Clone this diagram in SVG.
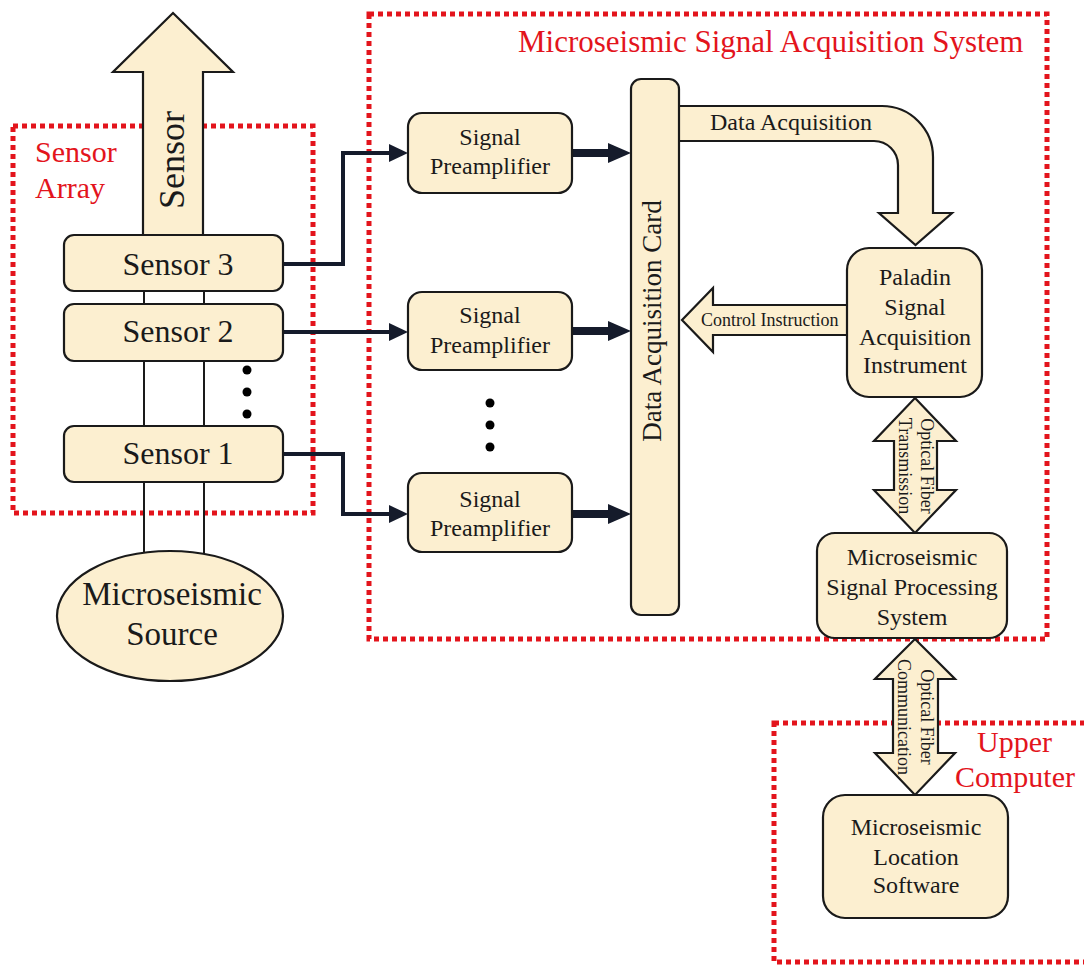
<svg xmlns="http://www.w3.org/2000/svg" width="1084" height="965" viewBox="0 0 1084 965">
<style>
.bg{fill:#ffffff}
.grp{fill:none;stroke:#e3141c;stroke-width:5;stroke-dasharray:5 4}
.node{fill:#fcefd0;stroke:#1a1a1a;stroke-width:2.2}
.t{font-family:"Liberation Serif","Times New Roman",serif;fill:#1a1a1a}
.r{font-family:"Liberation Serif","Times New Roman",serif;fill:#e3141c;font-size:30px}
.ln{fill:none;stroke:#151b2b;stroke-width:4}
.thk{fill:none;stroke:#151b2b;stroke-width:8}
.thin{fill:none;stroke:#1a1a1a;stroke-width:2}
.dot{fill:#000}
</style>
<defs>
<marker id="ah" markerUnits="userSpaceOnUse" markerWidth="19" markerHeight="18" viewBox="0 0 19 18" refX="0" refY="9" orient="auto">
<path d="M0,0 L19,9 L0,18 Z" fill="#151b2b"/>
</marker>
<marker id="ahb" markerUnits="userSpaceOnUse" markerWidth="23" markerHeight="20" viewBox="0 0 23 20" refX="0" refY="10" orient="auto">
<path d="M0,0 L23,10 L0,20 Z" fill="#151b2b"/>
</marker>
</defs>
<rect class="bg" x="0" y="0" width="1084" height="965"/>

<g id="groups">
<rect class="grp" x="13" y="126" width="300" height="387"/>
<rect class="grp" x="369" y="14" width="678" height="625"/>
<rect class="grp" x="774" y="723" width="330" height="239"/>
<text class="r" x="35" y="162">Sensor</text>
<text class="r" x="35" y="198">Array</text>
<text class="r" x="518" y="52" font-size="31" style="font-size:31px">Microseismic Signal Acquisition System</text>
<text class="r" x="977" y="752">Upper</text>
<text class="r" x="955" y="787">Computer</text>
</g>

<g id="connectors">
<line class="thin" x1="144" y1="291" x2="144" y2="304"/>
<line class="thin" x1="204" y1="291" x2="204" y2="304"/>
<line class="thin" x1="144" y1="361" x2="144" y2="426"/>
<line class="thin" x1="204" y1="361" x2="204" y2="426"/>
<line class="thin" x1="144" y1="482" x2="144" y2="558"/>
<line class="thin" x1="204" y1="482" x2="204" y2="558"/>
<path class="ln" d="M283,264 H343 V153 H389" marker-end="url(#ah)"/>
<path class="ln" d="M283,332 H389" marker-end="url(#ah)"/>
<path class="ln" d="M283,454 H343 V514 H389" marker-end="url(#ah)"/>
<path class="thk" d="M572,153 H608" marker-end="url(#ahb)"/>
<path class="thk" d="M572,331 H608" marker-end="url(#ahb)"/>
<path class="thk" d="M572,514 H608" marker-end="url(#ahb)"/>
<g id="sensor-arrow">
<polygon class="node" points="143,236 143,72 113,72 173,13 233,72 203,72 203,236"/>
<text class="t" font-size="36" text-anchor="middle" transform="translate(184,160) rotate(-90)">Sensor</text>
</g>
<g id="data-acq-arrow">
<path class="node" d="M675,106 H882 A51,51 0 0 1 933,157 V213 H952 L915.5,245 L879,213 H898 V165 A24,24 0 0 0 874,141 H675 Z"/>
<text class="t" font-size="24" x="710" y="130">Data Acquisition</text>
</g>
<g id="control-arrow">
<polygon class="node" points="848,305 713,305 713,288 682,320 713,352 713,335 848,335"/>
<text class="t" font-size="18" x="701" y="326">Control Instruction</text>
</g>
<g id="fiber-transmission">
<polygon class="node" points="915,398 956,441 937,441 937,490 956,490 915,533 874,490 894,490 894,441 874,441"/>
<text class="t" font-size="18" text-anchor="middle" transform="translate(921,466) rotate(90)">Optical Fiber</text>
<text class="t" font-size="18" text-anchor="middle" transform="translate(899,466) rotate(90)">Transmission</text>
</g>
<g id="fiber-communication">
<polygon class="node" points="915,639 955,679 938,679 938,753 955,753 915,795 875,753 893,753 893,679 875,679"/>
<text class="t" font-size="18" text-anchor="middle" transform="translate(921,717) rotate(90)">Optical Fiber</text>
<text class="t" font-size="18" text-anchor="middle" transform="translate(898,717) rotate(90)">Communication</text>
</g>
</g>

<g id="sensor3">
<rect class="node" x="64" y="235" width="219" height="56" rx="10"/>
<text class="t" font-size="32" x="178" y="275" text-anchor="middle">Sensor 3</text>
</g>
<g id="sensor2">
<rect class="node" x="64" y="304" width="219" height="57" rx="10"/>
<text class="t" font-size="32" x="178" y="342" text-anchor="middle">Sensor 2</text>
</g>
<g id="sensor1">
<rect class="node" x="64" y="426" width="219" height="56" rx="10"/>
<text class="t" font-size="32" x="178" y="464" text-anchor="middle">Sensor 1</text>
</g>
<g id="sensor-dots">
<circle class="dot" cx="247" cy="370" r="4.5"/>
<circle class="dot" cx="247" cy="392" r="4.5"/>
<circle class="dot" cx="247" cy="414" r="4.5"/>
</g>
<g id="source">
<ellipse class="node" cx="170" cy="616" rx="113" ry="65"/>
<text class="t" font-size="33" x="172" y="605" text-anchor="middle">Microseismic</text>
<text class="t" font-size="33" x="172" y="645" text-anchor="middle">Source</text>
</g>

<g id="preamp1">
<rect class="node" x="408" y="113" width="164" height="80" rx="14"/>
<text class="t" font-size="24" x="490" y="145" text-anchor="middle">Signal</text>
<text class="t" font-size="24" x="490" y="174" text-anchor="middle">Preamplifier</text>
</g>
<g id="preamp2">
<rect class="node" x="408" y="292" width="164" height="78" rx="14"/>
<text class="t" font-size="24" x="490" y="323" text-anchor="middle">Signal</text>
<text class="t" font-size="24" x="490" y="353" text-anchor="middle">Preamplifier</text>
</g>
<g id="preamp-dots">
<circle class="dot" cx="490" cy="403" r="4.5"/>
<circle class="dot" cx="490" cy="425" r="4.5"/>
<circle class="dot" cx="490" cy="447" r="4.5"/>
</g>
<g id="preamp3">
<rect class="node" x="408" y="473" width="164" height="79" rx="14"/>
<text class="t" font-size="24" x="490" y="507" text-anchor="middle">Signal</text>
<text class="t" font-size="24" x="490" y="536" text-anchor="middle">Preamplifier</text>
</g>

<g id="card">
<rect class="node" x="631" y="79" width="48" height="536" rx="10"/>
<text class="t" font-size="27" text-anchor="middle" transform="translate(661,321) rotate(-90)">Data Acquisition Card</text>
</g>

<g id="paladin">
<rect class="node" x="847" y="248" width="135" height="149" rx="22"/>
<text class="t" font-size="24" x="915" y="285" text-anchor="middle">Paladin</text>
<text class="t" font-size="24" x="915" y="315" text-anchor="middle">Signal</text>
<text class="t" font-size="24" x="915" y="345" text-anchor="middle">Acquisition</text>
<text class="t" font-size="24" x="915" y="373" text-anchor="middle">Instrument</text>
</g>

<g id="processing">
<rect class="node" x="817" y="533" width="190" height="105" rx="18"/>
<text class="t" font-size="24" x="912" y="565" text-anchor="middle">Microseismic</text>
<text class="t" font-size="24" x="912" y="595" text-anchor="middle">Signal Processing</text>
<text class="t" font-size="24" x="912" y="625" text-anchor="middle">System</text>
</g>

<g id="location">
<rect class="node" x="823" y="795" width="185" height="123" rx="22"/>
<text class="t" font-size="24" x="916" y="835" text-anchor="middle">Microseismic</text>
<text class="t" font-size="24" x="916" y="865" text-anchor="middle">Location</text>
<text class="t" font-size="24" x="916" y="893" text-anchor="middle">Software</text>
</g>
</svg>
